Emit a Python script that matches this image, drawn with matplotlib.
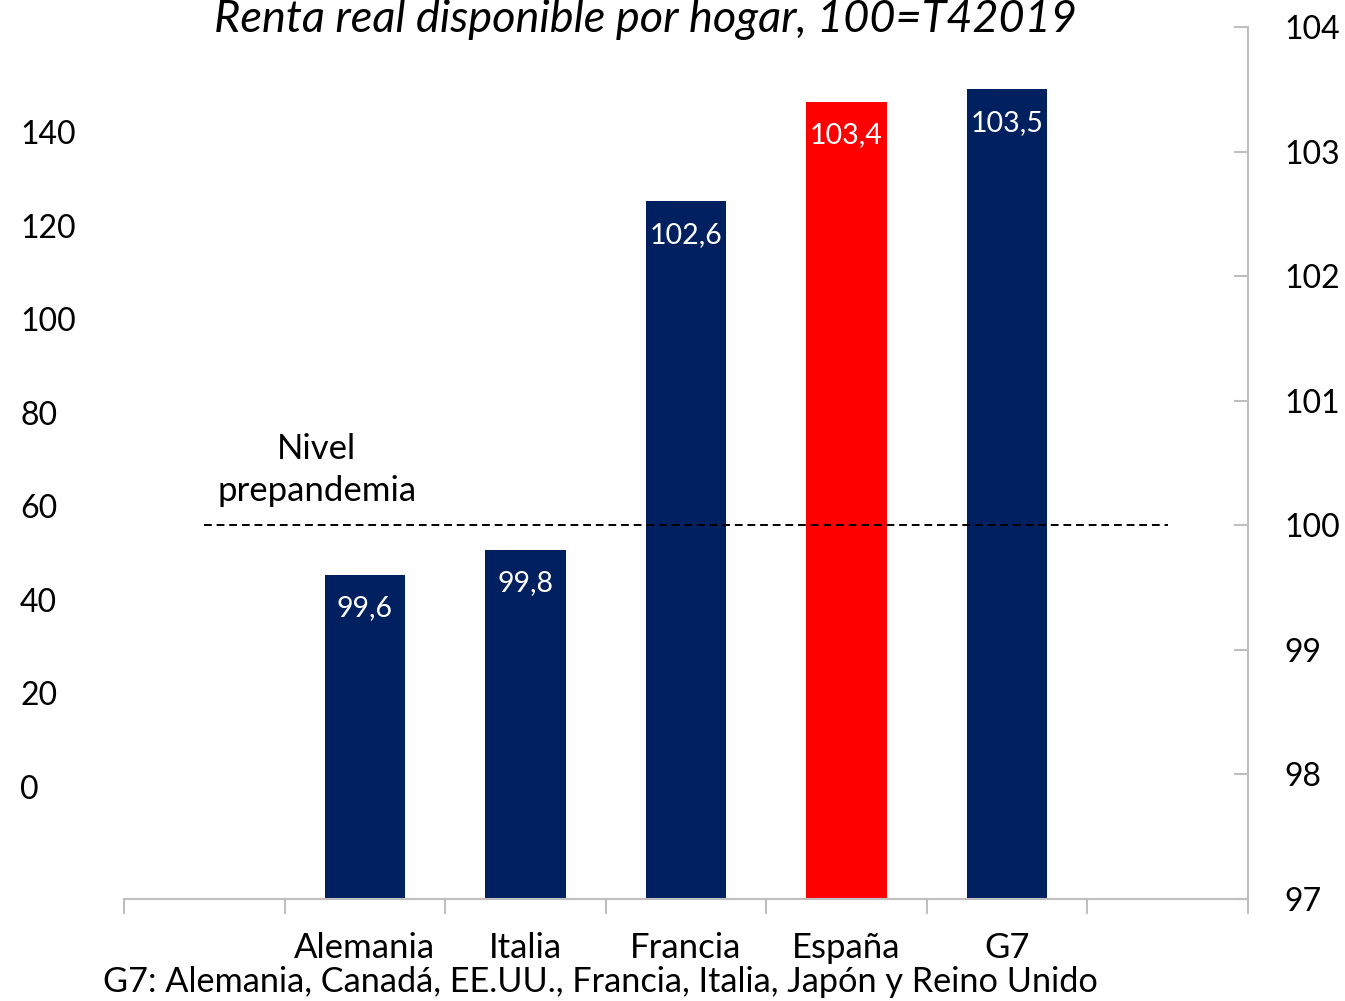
import matplotlib
matplotlib.use("Agg")
import matplotlib.pyplot as plt

plt.rcParams['font.family'] = ['Lato', 'DejaVu Sans']

categories = ["Alemania", "Italia", "Francia", "España", "G7"]
values = [99.6, 99.8, 102.6, 103.4, 103.5]
value_labels = ["99,6", "99,8", "102,6", "103,4", "103,5"]
bar_colors = ["#002060", "#002060", "#002060", "#FF0000", "#002060"]
right_ticks = [97, 98, 99, 100, 101, 102, 103, 104]
left_ticks = [0, 20, 40, 60, 80, 100, 120, 140]
pre_level = 100
title = "Renta real disponible por hogar, 100=T42019"
note = "G7: Alemania, Canadá, EE.UU., Francia, Italia, Japón y Reino Unido"

fig = plt.figure(figsize=(13.45, 10.01), dpi=100)
ax = fig.add_axes([124/1345, 1-899/1001, (1248-124)/1345, (899-27)/1001])

# left (primary) axis labels without spine
axl = ax.twinx()
axl.yaxis.tick_left()
px_per_unit = (787 - 132) / 140
axl.set_ylim(-(899 - 787) / px_per_unit, (787 - 27) / px_per_unit)
axl.set_yticks(left_ticks)
axl.set_yticklabels([str(t) for t in left_ticks], fontsize=23, ha='left')
axl.tick_params(axis='y', length=0, pad=104 * 72 / 100)
for s in axl.spines.values():
    s.set_visible(False)

xs = list(range(1, len(categories) + 1))
ax.bar(xs, [v - 97 for v in values], bottom=97, width=0.5, color=bar_colors, zorder=2)
for x, v, lab in zip(xs, values, value_labels):
    ax.annotate(lab, (x, v), xytext=(0, -24), textcoords='offset points',
                ha='center', va='center', color='white', fontsize=20.5, zorder=3)

ax.plot([0, 6], [pre_level, pre_level], color='black', lw=1.4, ls=(0, (4, 2.5)), zorder=4)
ax.annotate("Nivel\nprepandemia", (0.7, pre_level), xytext=(0, 13), textcoords='offset points',
            ha='center', va='bottom', fontsize=25, linespacing=1.4)

ax.set_xlim(-0.5, 6.5)
ax.set_ylim(97, 104)
ax.set_xticks(xs)
ax.set_xticklabels(categories, fontsize=25)
ax.tick_params(axis='x', which='major', length=0, pad=24)
ax.set_xticks([i - 0.5 for i in range(8)], minor=True)
ax.tick_params(axis='x', which='minor', length=11, width=1.5, color='#BFBFBF', direction='out')

ax.yaxis.tick_right()
ax.yaxis.set_label_position('right')
ax.set_yticks(right_ticks)
ax.set_yticklabels([str(t) for t in right_ticks], fontsize=23)
ax.tick_params(axis='y', direction='in', length=10, width=1.5, color='#BFBFBF', pad=26,
               left=False, labelleft=False, right=True, labelright=True)

for s in ['top', 'left']:
    ax.spines[s].set_visible(False)
for s in ['bottom', 'right']:
    ax.spines[s].set_color('#BFBFBF')
    ax.spines[s].set_linewidth(1.5)
axl.set_xlim(ax.get_xlim())

fig.text(645/1345, 1 - 20/1001, title, ha='center', va='center', fontsize=32.5, style='italic')
fig.text(600/1345, 1 - 982/1001, note, ha='center', va='center', fontsize=24.7)

fig.savefig("out.png", dpi=100)
